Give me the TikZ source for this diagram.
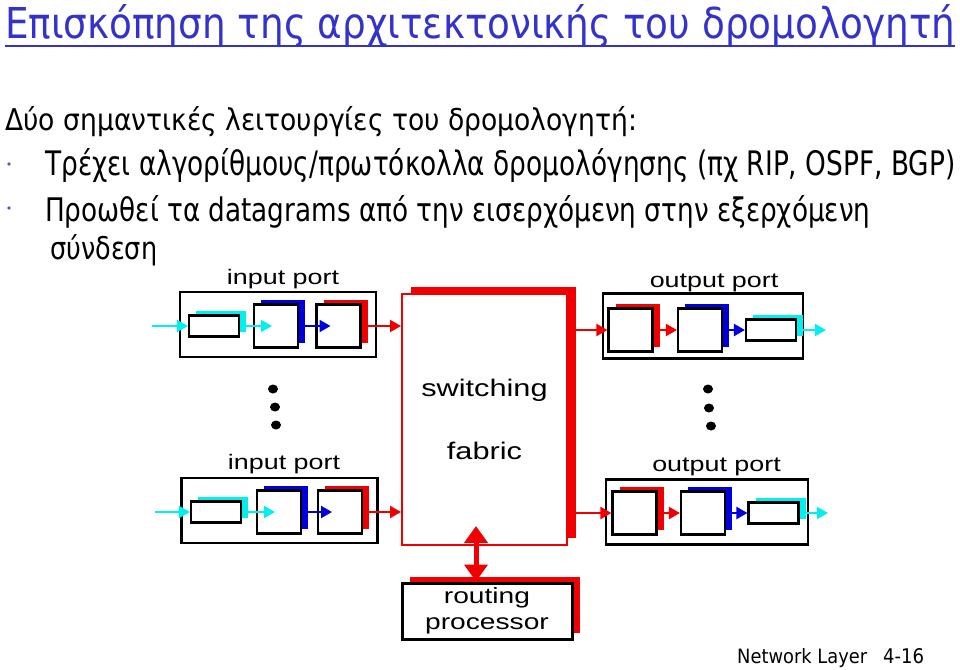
\documentclass[tikz,border=0pt]{standalone}
\usepackage{fontspec}
\usepackage{graphicx}
\setmainfont{DejaVu Sans}
\newfontfamily\arialfont{Liberation Sans}
\usetikzlibrary{arrows.meta,shadows}
\definecolor{titleblue}{RGB}{51,51,204}
\definecolor{pcyan}{RGB}{0,240,240}
\definecolor{pblue}{RGB}{0,0,220}
\definecolor{pred}{RGB}{240,0,0}
\definecolor{bulletblue}{RGB}{90,90,170}
\newcommand{\wideA}[1]{\scalebox{1.28}[1]{#1}}
\newcommand{\fitbox}[3]{\resizebox{#1}{#2}{#3}}

\begin{document}
\begin{tikzpicture}[x=1pt, y=-1pt,
  portbox/.style={draw, line width=2.2pt, inner sep=0pt, minimum height=65pt, minimum width=#1},
  bufsq/.style={draw, line width=2.2pt, fill=white, inner sep=0pt, minimum width=44pt, minimum height=43pt,
    copy shadow={shadow xshift=7pt, shadow yshift=5pt, fill=#1, draw=none}},
  bufln/.style={draw, line width=2.2pt, fill=white, inner sep=0pt, minimum width=50pt, minimum height=21pt,
    copy shadow={shadow xshift=7pt, shadow yshift=5pt, fill=pcyan, draw=none}},
  flow/.style={#1, line width=2.2pt, -{Triangle[length=11pt, width=12pt]}},
  portlbl/.style={anchor=base, inner sep=0pt, font=\arialfont\fontsize{21}{21}\selectfont},
  slide/.style={anchor=base west, inner sep=0pt},
]
\useasboundingbox (0,0) rectangle (960,669);

% slide text
\node[slide, text=titleblue] (title) at (5,38) {\fitbox{950pt}{34pt}{Επισκόπηση της αρχιτεκτονικής του δρομολογητή}};
\draw[titleblue, line width=2.5pt] ([yshift=-8pt]title.base west) -- ([yshift=-8pt]title.base east);
\node[slide] (roles) at (5,130) {\fitbox{632pt}{24pt}{Δύο σημαντικές λειτουργίες του δρομολογητή:}};
\fill[bulletblue] (9,164) circle (1.8);
\node[slide] (run) at (45,175) {\fitbox{910pt}{27pt}{Τρέχει αλγορίθμους/πρωτόκολλα δρομολόγησης (πχ RIP, OSPF, BGP)}};
\fill[bulletblue] (9,208) circle (1.8);
\node[slide] (fwd) at (45,221) {\fitbox{825pt}{26pt}{Προωθεί τα datagrams από την εισερχόμενη στην εξερχόμενη}};
\node[slide] (fwdb) at (50,259) {\fitbox{107pt}{25pt}{σύνδεση}};

% input ports
\node[portbox=196pt] (ip1) at (278,324.5) {};
\node[bufln] (ip1l) at (214,326) {};
\node[bufsq=pblue] (ip1q) at (276,326) {};
\node[bufsq=pred] (ip1s) at (338.5,326) {};
\node[portlbl] (ip1lab) at (283,284) {\wideA{input port}};

\node[portbox=196pt] (ip2) at (279.5,510.5) {};
\node[bufln] (ip2l) at (216,512) {};
\node[bufsq=pblue] (ip2q) at (279,512) {};
\node[bufsq=pred] (ip2s) at (340,512) {};
\node[portlbl] (ip2lab) at (284,469) {\wideA{input port}};

% output ports
\node[portbox=200pt] (op1) at (703,326) {};
\node[bufsq=pred] (op1s) at (630.5,330) {};
\node[bufsq=pblue] (op1q) at (700,330) {};
\node[bufln] (op1l) at (771,330) {};
\node[portlbl] (op1lab) at (714,287) {\wideA{output port}};

\node[portbox=202pt] (op2) at (707,512) {};
\node[bufsq=pred] (op2s) at (634.5,513) {};
\node[bufsq=pblue] (op2q) at (703,513) {};
\node[bufln] (op2l) at (773.5,513) {};
\node[portlbl] (op2lab) at (716.5,471) {\wideA{output port}};

% fabric and routing processor
\node[draw=pred, line width=2pt, fill=white, minimum width=165pt, minimum height=251pt, inner sep=0pt,
  align=center, font=\arialfont\fontsize{24}{29}\selectfont,
  copy shadow={shadow xshift=9pt, shadow yshift=7pt, fill=pred, draw=none}]
  (fab) at (484.5,419.5) {\wideA{switching}\\[34pt]\wideA{fabric}};
\node[draw, line width=3pt, fill=white, minimum width=170pt, minimum height=56pt, inner sep=0pt,
  align=center, font=\arialfont\fontsize{22}{26}\selectfont,
  copy shadow={shadow xshift=8pt, shadow yshift=6pt, fill=pred, draw=none}]
  (rp) at (487,611) {\wideA{routing}\\\wideA{processor}};
\draw[pred, line width=5pt, {Triangle[length=17pt, width=23pt]}-{Triangle[length=17pt, width=23pt]}]
  ([xshift=-8.5pt, yshift=20pt]fab.south) -- ([xshift=-8.5pt]fab.south |- rp.north);

% dots
\foreach \x/\y in {273/389, 275/407, 276/425, 708/389, 709/408, 711/426}
  \fill (\x,\y) ellipse [x radius=5, y radius=4.5];

% flows
\coordinate (ip1in) at (152,326);
\coordinate (ip2in) at (155,512);
\coordinate (op1out) at (826,330);
\coordinate (op2out) at (828,513);
\draw[flow=pcyan] (ip1in) -- (ip1l.west);
\draw[flow=pcyan] (ip1l.east) -- ([xshift=-4pt]ip1q.center);
\draw[flow=pblue] (ip1q.east) -- ([xshift=-8pt]ip1s.center);
\draw[flow=pred] (ip1s.east) -- (ip1s.east -| fab.west);
\draw[flow=pcyan] (ip2in) -- (ip2l.west);
\draw[flow=pcyan] (ip2l.east) -- ([xshift=-4pt]ip2q.center);
\draw[flow=pblue] (ip2q.east) -- ([xshift=-8pt]ip2s.center);
\draw[flow=pred] (ip2s.east) -- (ip2s.east -| fab.west);
\draw[flow=pred] (fab.east |- op1s.west) -- (op1s.west);
\draw[flow=pred] (op1s.east) -- (op1q.west);
\draw[flow=pblue] (op1q.east) -- (op1l.west);
\draw[flow=pcyan] (op1l.east) -- (op1out);
\draw[flow=pred] (fab.east |- op2s.west) -- (op2s.west);
\draw[flow=pred] (op2s.east) -- (op2q.west);
\draw[flow=pblue] (op2q.east) -- (op2l.west);
\draw[flow=pcyan] (op2l.east) -- (op2out);

% footer
\node[slide] (foot) at (737,663) {\fitbox{130pt}{15pt}{Network Layer}};
\node[slide] (page) at (883,663) {\fitbox{41pt}{15pt}{4-16}};
\end{tikzpicture}
\end{document}
